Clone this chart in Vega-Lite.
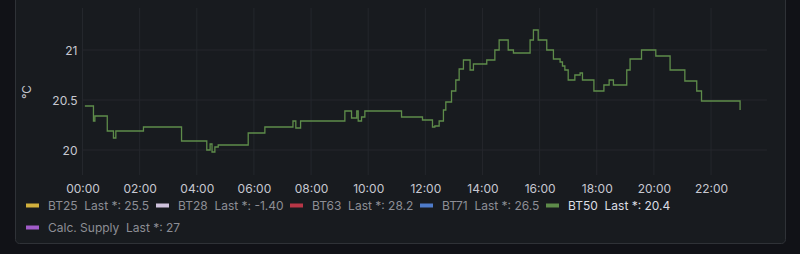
{
  "$schema": "https://vega.github.io/schema/vega-lite/v6.json",
  "width": 770,
  "height": 248,
  "autosize": {"type": "none"},
  "padding": {"left": 15, "right": 15, "top": -5, "bottom": 11},
  "background": "#111217",
  "config": {
    "font": "Inter",
    "view": {"fill": "#181b1f", "stroke": "#2f3237", "strokeWidth": 1, "cornerRadius": 4},
    "legend": {
      "title": null,
      "orient": "none",
      "direction": "horizontal",
      "gridAlign": "none",
      "columnPadding": -2,
      "padding": 0,
      "symbolType": "stroke",
      "symbolSize": 169,
      "symbolStrokeWidth": 4,
      "labelOffset": 7,
      "labelFont": "Inter",
      "labelFontSize": 12,
      "labelLimit": 400
    }
  },
  "datasets": {
    "bt50": [
      {"t": "2024-01-15T00:05:00Z", "v": 20.44},
      {"t": "2024-01-15T00:23:00Z", "v": 20.29},
      {"t": "2024-01-15T00:26:00Z", "v": 20.34},
      {"t": "2024-01-15T00:52:00Z", "v": 20.19},
      {"t": "2024-01-15T01:05:00Z", "v": 20.12},
      {"t": "2024-01-15T01:10:00Z", "v": 20.19},
      {"t": "2024-01-15T02:08:00Z", "v": 20.23},
      {"t": "2024-01-15T03:28:00Z", "v": 20.09},
      {"t": "2024-01-15T04:21:00Z", "v": 20.0},
      {"t": "2024-01-15T04:28:00Z", "v": 20.06},
      {"t": "2024-01-15T04:32:00Z", "v": 19.98},
      {"t": "2024-01-15T04:38:00Z", "v": 20.03},
      {"t": "2024-01-15T04:45:00Z", "v": 20.05},
      {"t": "2024-01-15T05:48:00Z", "v": 20.17},
      {"t": "2024-01-15T06:23:00Z", "v": 20.23},
      {"t": "2024-01-15T07:22:00Z", "v": 20.29},
      {"t": "2024-01-15T07:28:00Z", "v": 20.22},
      {"t": "2024-01-15T07:38:00Z", "v": 20.29},
      {"t": "2024-01-15T09:11:00Z", "v": 20.39},
      {"t": "2024-01-15T09:25:00Z", "v": 20.32},
      {"t": "2024-01-15T09:36:00Z", "v": 20.39},
      {"t": "2024-01-15T09:39:00Z", "v": 20.29},
      {"t": "2024-01-15T09:46:00Z", "v": 20.33},
      {"t": "2024-01-15T09:53:00Z", "v": 20.39},
      {"t": "2024-01-15T11:10:00Z", "v": 20.33},
      {"t": "2024-01-15T11:54:00Z", "v": 20.3},
      {"t": "2024-01-15T12:15:00Z", "v": 20.23},
      {"t": "2024-01-15T12:20:00Z", "v": 20.24},
      {"t": "2024-01-15T12:29:00Z", "v": 20.29},
      {"t": "2024-01-15T12:38:00Z", "v": 20.4},
      {"t": "2024-01-15T12:43:00Z", "v": 20.48},
      {"t": "2024-01-15T12:55:00Z", "v": 20.59},
      {"t": "2024-01-15T13:04:00Z", "v": 20.7},
      {"t": "2024-01-15T13:11:00Z", "v": 20.81},
      {"t": "2024-01-15T13:20:00Z", "v": 20.9},
      {"t": "2024-01-15T13:34:00Z", "v": 20.8},
      {"t": "2024-01-15T13:41:00Z", "v": 20.86},
      {"t": "2024-01-15T14:09:00Z", "v": 20.9},
      {"t": "2024-01-15T14:26:00Z", "v": 21.0},
      {"t": "2024-01-15T14:35:00Z", "v": 21.1},
      {"t": "2024-01-15T14:54:00Z", "v": 21.0},
      {"t": "2024-01-15T15:05:00Z", "v": 20.97},
      {"t": "2024-01-15T15:40:00Z", "v": 21.1},
      {"t": "2024-01-15T15:47:00Z", "v": 21.2},
      {"t": "2024-01-15T15:57:00Z", "v": 21.1},
      {"t": "2024-01-15T16:15:00Z", "v": 21.0},
      {"t": "2024-01-15T16:29:00Z", "v": 20.91},
      {"t": "2024-01-15T16:43:00Z", "v": 20.88},
      {"t": "2024-01-15T16:48:00Z", "v": 20.84},
      {"t": "2024-01-15T16:53:00Z", "v": 20.8},
      {"t": "2024-01-15T17:00:00Z", "v": 20.7},
      {"t": "2024-01-15T17:14:00Z", "v": 20.75},
      {"t": "2024-01-15T17:25:00Z", "v": 20.77},
      {"t": "2024-01-15T17:30:00Z", "v": 20.7},
      {"t": "2024-01-15T17:54:00Z", "v": 20.59},
      {"t": "2024-01-15T18:15:00Z", "v": 20.65},
      {"t": "2024-01-15T18:26:00Z", "v": 20.7},
      {"t": "2024-01-15T18:35:00Z", "v": 20.65},
      {"t": "2024-01-15T19:03:00Z", "v": 20.8},
      {"t": "2024-01-15T19:10:00Z", "v": 20.91},
      {"t": "2024-01-15T19:34:00Z", "v": 21.0},
      {"t": "2024-01-15T20:04:00Z", "v": 20.94},
      {"t": "2024-01-15T20:34:00Z", "v": 20.8},
      {"t": "2024-01-15T21:05:00Z", "v": 20.69},
      {"t": "2024-01-15T21:30:00Z", "v": 20.59},
      {"t": "2024-01-15T21:40:00Z", "v": 20.49},
      {"t": "2024-01-15T23:01:00Z", "v": 20.4}
    ],
    "xgrid": [
      {"t": "2024-01-15T00:00:00Z"}, {"t": "2024-01-15T02:00:00Z"}, {"t": "2024-01-15T04:00:00Z"},
      {"t": "2024-01-15T06:00:00Z"}, {"t": "2024-01-15T08:00:00Z"}, {"t": "2024-01-15T10:00:00Z"},
      {"t": "2024-01-15T12:00:00Z"}, {"t": "2024-01-15T14:00:00Z"}, {"t": "2024-01-15T16:00:00Z"},
      {"t": "2024-01-15T18:00:00Z"}, {"t": "2024-01-15T20:00:00Z"}, {"t": "2024-01-15T22:00:00Z"}
    ],
    "ygrid": [{"v": 20}, {"v": 20.5}, {"v": 21}]
  },
  "resolve": {"scale": {"color": "independent"}, "legend": {"color": "independent"}},
  "layer": [
    {
      "data": {"name": "xgrid"},
      "mark": {"type": "rule", "color": "#24272c", "strokeWidth": 1},
      "encoding": {
        "x": {"field": "t", "type": "temporal"},
        "y": {"datum": 19.75},
        "y2": {"datum": 21.42}
      }
    },
    {
      "data": {"name": "ygrid"},
      "mark": {"type": "rule", "color": "#24272c", "strokeWidth": 1},
      "encoding": {
        "y": {"field": "v", "type": "quantitative"},
        "x": {"datum": {"year": 2024, "month": 1, "date": 15, "hours": 0, "utc": true}},
        "x2": {"datum": {"year": 2024, "month": 1, "date": 15, "hours": 23, "minutes": 57, "seconds": 30, "utc": true}}
      }
    },
    {
      "data": {"values": []},
      "mark": {"type": "line"},
      "encoding": {
        "x": {"field": "t", "type": "temporal"},
        "y": {"field": "v", "type": "quantitative"},
        "color": {
          "datum": "Calc. Supply",
          "scale": {"domain": ["Calc. Supply"], "range": ["#a15cc9"]},
          "legend": {
            "legendX": 9,
            "legendY": 224,
            "labelColor": "#8d8e95",
            "labelExpr": "'Calc. Supply\u00a0\u00a0Last *: 27'"
          }
        }
      }
    },
    {
      "data": {"name": "bt50"},
      "mark": {"type": "line", "interpolate": "step-after", "strokeWidth": 1.3, "opacity": 0.9},
      "encoding": {
        "x": {
          "field": "t", "type": "temporal",
          "scale": {
            "type": "utc",
            "domain": [
              {"year": 2024, "month": 1, "date": 14, "hours": 21, "minutes": 38, "seconds": 14, "utc": true},
              {"year": 2024, "month": 1, "date": 16, "hours": 0, "minutes": 35, "seconds": 20, "utc": true}
            ]
          },
          "axis": {
            "title": null,
            "offset": -62,
            "domain": false,
            "ticks": false,
            "grid": false,
            "labelPadding": 2,
            "labelFontSize": 12,
            "labelColor": "#c7c8d1",
            "labelFont": "Inter",
            "labelExpr": "utcFormat(datum.value, '%H:%M')",
            "values": [
              {"year": 2024, "month": 1, "date": 15, "hours": 0, "utc": true},
              {"year": 2024, "month": 1, "date": 15, "hours": 2, "utc": true},
              {"year": 2024, "month": 1, "date": 15, "hours": 4, "utc": true},
              {"year": 2024, "month": 1, "date": 15, "hours": 6, "utc": true},
              {"year": 2024, "month": 1, "date": 15, "hours": 8, "utc": true},
              {"year": 2024, "month": 1, "date": 15, "hours": 10, "utc": true},
              {"year": 2024, "month": 1, "date": 15, "hours": 12, "utc": true},
              {"year": 2024, "month": 1, "date": 15, "hours": 14, "utc": true},
              {"year": 2024, "month": 1, "date": 15, "hours": 16, "utc": true},
              {"year": 2024, "month": 1, "date": 15, "hours": 18, "utc": true},
              {"year": 2024, "month": 1, "date": 15, "hours": 20, "utc": true},
              {"year": 2024, "month": 1, "date": 15, "hours": 22, "utc": true}
            ]
          }
        },
        "y": {
          "field": "v", "type": "quantitative",
          "scale": {"domain": [19.07, 21.55], "nice": false, "zero": false},
          "axis": {
            "title": "°C",
            "titleFont": "Inter",
            "titleFontSize": 12,
            "titleFontWeight": "normal",
            "titleColor": "#c7c8d1",
            "titlePadding": 18,
            "titleY": 96.5,
            "offset": -64,
            "domain": false,
            "ticks": false,
            "grid": false,
            "values": [20, 20.5, 21],
            "format": "~g",
            "labelPadding": 2,
            "labelFontSize": 12,
            "labelFont": "Inter",
            "labelColor": "#c7c8d1"
          }
        },
        "color": {
          "datum": "BT50",
          "scale": {
            "domain": ["BT25", "BT28", "BT63", "BT71", "BT50"],
            "range": ["#e6c141", "#e3d6f2", "#c9394b", "#5486dc", "#66994f"]
          },
          "legend": {
            "legendX": 9,
            "legendY": 202,
            "columns": 5,
            "labelColor": {"expr": "datum.value == 'BT50' ? '#dcdde3' : '#8d8e95'"},
            "labelExpr": "datum.label == 'BT25' ? 'BT25\u00a0\u00a0Last *: 25.5' : datum.label == 'BT28' ? 'BT28\u00a0\u00a0Last *: -1.40' : datum.label == 'BT63' ? 'BT63\u00a0\u00a0Last *: 28.2' : datum.label == 'BT71' ? 'BT71\u00a0\u00a0Last *: 26.5' : 'BT50\u00a0\u00a0Last *: 20.4'"
          }
        }
      }
    }
  ]
}
